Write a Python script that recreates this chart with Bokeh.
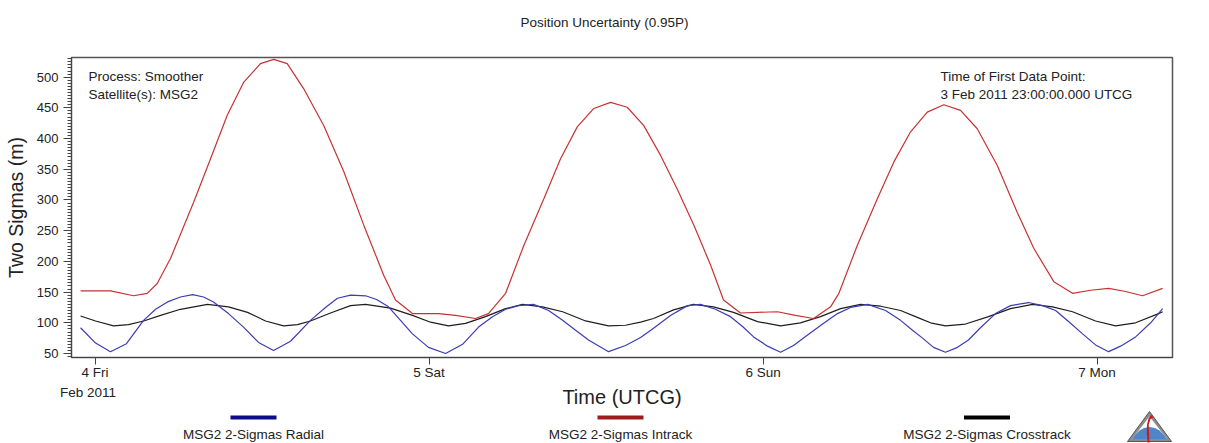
from bokeh.plotting import figure
from bokeh.layouts import column
from bokeh.models import (Range1d, FixedTicker, SingleIntervalTicker, Label, LinearAxis, Title)
from bokeh.core.properties import value
from bokeh.embed import file_html
from bokeh.resources import INLINE

# ---------------- data (time in hours since 4 Feb 2011 00:00 UTCG) ----------------
series_names = ["MSG2 2-Sigmas Radial", "MSG2 2-Sigmas Intrack", "MSG2 2-Sigmas Crosstrack"]

radial_t = [-1.04, 0.04, 1.11, 2.26, 3.49, 4.35, 5.21, 6.14, 7.01, 7.80, 8.51, 9.59, 10.67,
            11.75, 12.83, 14.05, 15.48, 16.56, 17.42, 18.36, 19.44, 20.23, 21.09, 21.95,
            22.81, 23.96, 25.19, 26.41, 27.56, 28.56, 29.50, 30.43, 31.51, 32.59, 33.60,
            34.53, 35.46, 36.90, 38.12, 39.20, 40.13, 41.35, 42.57, 43.50, 44.58, 45.66,
            46.53, 47.32, 48.32, 49.26, 50.19, 51.20, 52.28, 53.35, 54.29, 55.51, 56.80,
            57.88, 58.74, 59.46, 60.25, 61.11, 61.97, 62.76, 63.62, 64.70, 65.78, 67.08,
            68.08, 69.02, 69.95, 70.96, 71.89, 72.83, 73.69, 74.77, 75.85, 76.71]
radial_v = [92, 67, 53, 66, 104, 122, 134, 142, 146, 142, 134, 115, 93,
            68, 55, 70, 104, 125, 140, 145, 144, 138, 126, 104,
            82, 60, 50, 65, 93, 110, 122, 128, 130, 120, 104,
            88, 72, 53, 63, 76, 91, 112, 128, 130, 122, 110,
            94, 77, 62, 52, 63, 80, 98, 115, 125, 130, 120,
            104, 88, 75, 60, 52, 60, 72, 92, 115, 128, 133,
            128, 120, 102, 82, 64, 53, 62, 77, 100, 123]

intrack_t = [-1.04, 1.11, 2.77, 3.75, 4.47, 5.43, 7.10, 8.30, 9.50, 10.69, 11.89, 12.85,
             13.81, 15.00, 16.44, 17.88, 19.31, 20.75, 21.59, 22.81, 24.68, 25.90, 27.34,
             28.27, 29.50, 30.81, 32.25, 33.45, 34.65, 35.84, 37.04, 38.24, 39.43, 40.63,
             41.83, 43.03, 44.23, 45.16, 46.38, 49.04, 50.33, 51.63, 52.85, 53.45, 54.77,
             56.21, 57.40, 58.60, 59.80, 60.99, 62.19, 63.39, 64.83, 66.26, 67.46, 68.89,
             70.24, 71.53, 72.83, 74.05, 75.27, 76.71]
intrack_v = [152, 152, 144, 148, 164, 205, 297, 367, 438, 492, 522, 529,
             522, 481, 421, 346, 259, 177, 137, 115, 115, 112, 107,
             115, 148, 226, 302, 367, 419, 449, 459, 451, 421, 373,
             318, 259, 194, 137, 116, 118, 112, 107, 126, 148, 226,
             302, 362, 411, 443, 455, 446, 416, 356, 280, 221, 167,
             148, 153, 156, 151, 144, 156]

crosstrack_t = [-1.04, 0.04, 1.33, 2.41, 3.49, 4.71, 6.14, 8.08, 9.59, 10.96, 12.25, 13.55,
                14.55, 15.48, 16.92, 18.36, 19.44, 21.23, 22.81, 24.11, 25.40, 26.62, 28.06,
                29.50, 30.72, 32.15, 33.60, 35.25, 36.90, 38.12, 39.20, 40.13, 41.57, 43.00,
                44.44, 45.88, 47.60, 49.26, 50.69, 52.13, 53.57, 55.01, 56.45, 57.88, 59.17,
                60.03, 61.11, 62.55, 64.20, 65.78, 67.36, 68.80, 70.24, 71.89, 73.33, 74.77,
                76.42, 76.71]
crosstrack_v = [111, 103, 95, 97, 103, 112, 122, 130, 126, 117, 103, 95,
                97, 103, 116, 128, 130, 124, 112, 101, 95, 99, 110,
                123, 130, 126, 118, 103, 95, 96, 101, 107, 121, 130,
                126, 117, 102, 95, 100, 110, 123, 130, 127, 120, 108,
                100, 95, 98, 110, 123, 130, 126, 118, 103, 95, 100,
                115, 118]

x_ticks = [0, 24, 48, 72]
x_tick_labels = ["4 Fri", "5 Sat", "6 Sun", "7 Mon"]
x_start_label = "Feb 2011"

line_colors = ["#3c3cb4", "#c83232", "#1e1e1e"]
swatch_colors = ["#0c0c8c", "#a01c1c", "#000000"]

FONT = "Liberation Sans"
TXT = "#222222"
W = 1209
BL, BR = 71, 37          # left / right borders shared by both figures
MAIN_H = 410             # main figure height; the legend strip fills the rest

# ---------------- main figure ----------------
p = figure(width=W, height=MAIN_H, output_backend="svg", toolbar_location=None,
           x_range=Range1d(-1.69, 77.42), y_range=Range1d(43.5, 532),
           min_border_left=BL, min_border_right=BR, min_border_top=57,
           min_border_bottom=MAIN_H - 357,
           background_fill_color="white", border_fill_color="white")
p.grid.visible = False
p.outline_line_color = "#555555"
p.outline_line_width = 1.5

# spacer (invisible) between frame and title, then the title itself
p.add_layout(Title(text=" ", text_font=FONT, text_font_size="13.5px", standoff=11,
                   text_color="white"), "above")
p.add_layout(Title(text="Position Uncertainty (0.95P)", align="left", offset=449,
                   standoff=0, text_font=FONT, text_font_size="13.5px",
                   text_font_style="normal", text_color=TXT), "above")

# y axis
p.yaxis.ticker = SingleIntervalTicker(interval=50, num_minor_ticks=10)
p.yaxis.axis_label = "Two Sigmas (m)"
p.yaxis.axis_label_text_font = FONT
p.yaxis.axis_label_text_font_size = "19.5px"
p.yaxis.axis_label_text_font_style = "normal"
p.yaxis.axis_label_text_color = TXT
p.yaxis.axis_label_standoff = 7
p.yaxis.major_label_text_font = FONT
p.yaxis.major_label_text_font_size = "13px"
p.yaxis.major_label_text_color = TXT
p.yaxis.major_label_standoff = 5
p.yaxis.major_tick_out = 8
p.yaxis.major_tick_in = 0
p.yaxis.minor_tick_out = 4
p.yaxis.minor_tick_in = 0
p.yaxis.axis_line_color = "#444444"
p.yaxis.major_tick_line_color = "#444444"
p.yaxis.minor_tick_line_color = "#444444"

# x axis (day ticks)
xa = p.xaxis[0]
xa.ticker = FixedTicker(ticks=x_ticks)
xa.major_label_overrides = {t: lab for t, lab in zip(x_ticks, x_tick_labels)}
xa.major_label_text_font = FONT
xa.major_label_text_font_size = "13.5px"
xa.major_label_text_color = TXT
xa.major_label_standoff = 0
xa.major_tick_out = 7
xa.major_tick_in = 0
xa.minor_tick_line_color = None
xa.axis_line_color = "#444444"
xa.major_tick_line_color = "#444444"

# second row of the first tick label + axis title
xb = LinearAxis(ticker=FixedTicker(ticks=[-0.5]),
                major_label_overrides={-0.5: x_start_label},
                axis_line_color=None, major_tick_line_color=None, minor_tick_line_color=None,
                major_tick_out=0, major_tick_in=0, major_label_standoff=2,
                major_label_text_font=FONT, major_label_text_font_size="13.5px",
                major_label_text_color=TXT,
                axis_label="Time (UTCG)", axis_label_standoff=-17,
                axis_label_text_font=FONT, axis_label_text_font_size="20px",
                axis_label_text_font_style="normal", axis_label_text_color=TXT)
p.add_layout(xb, "below")

# series
p.line(crosstrack_t, crosstrack_v, line_color=line_colors[2], line_width=1.2)
p.line(radial_t, radial_v, line_color=line_colors[0], line_width=1.2)
p.line(intrack_t, intrack_v, line_color=line_colors[1], line_width=1.2)

def label(text, x, y):
    p.add_layout(Label(text=text, x=x, y=y, x_units="screen", y_units="screen",
                       text_font=FONT, text_font_size="13.5px", text_color=TXT,
                       text_align="left", text_baseline="middle"))

label("Process: Smoother", 17, 281)
label("Satellite(s): MSG2", 17, 263)
label("Time of First Data Point:", 869, 281)
label("3 Feb 2011 23:00:00.000 UTCG", 869, 263)

# ---------------- legend strip (page pixel coordinates) ----------------
top_px, bot_px = MAIN_H, 443
q = figure(width=W, height=bot_px - top_px, output_backend="svg", toolbar_location=None,
           x_range=Range1d(BL, W - BR), y_range=Range1d(bot_px, top_px),
           min_border_left=BL, min_border_right=BR, min_border_top=0, min_border_bottom=0,
           x_axis_location=None, y_axis_location=None, outline_line_color=None,
           background_fill_color="white", border_fill_color="white")
q.grid.visible = False

legend_x = [253, 620, 986.5]
q.rect(x=legend_x, y=[417] * 3, width=46, height=4, fill_color=swatch_colors,
       line_color=None)
q.text(x=legend_x, y=[434] * 3, text=series_names, text_align="center",
       text_baseline="middle", text_font=value(FONT), text_font_size=value("13.5px"),
       text_color=TXT)

# small logo
q.patch([1149, 1127, 1171], [411, 441, 441], fill_color="#8c8c8c", line_color="#555555",
        line_width=1)
q.patch([1149, 1131.5, 1166.5], [416, 438.5, 438.5], fill_color="#ffffff", line_color=None)
q.patch([1131.5, 1135, 1139, 1143.5, 1149, 1154.5, 1159, 1163, 1166.5],
        [438.5, 434, 430, 427.5, 426.5, 427.5, 430, 434, 438.5],
        fill_color="#4f86c9", line_color=None)
q.patch([1147, 1146.3, 1146.5, 1148, 1150.5, 1153, 1152, 1150, 1148.2, 1148.6, 1149],
        [442, 433, 424, 418, 414.5, 416.5, 417.5, 418.5, 424, 433, 442],
        fill_color="#d01a1a", line_color=None)

open("out.html", "w").write(file_html(column(p, q, spacing=0), INLINE))
